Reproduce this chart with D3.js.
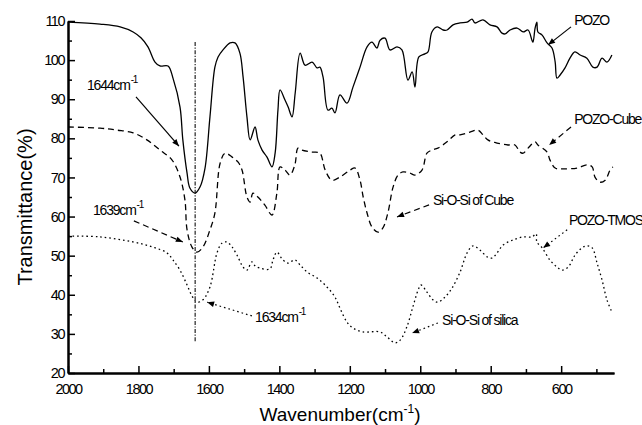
<!DOCTYPE html>
<html>
<head>
<meta charset="utf-8">
<script src="https://cdn.jsdelivr.net/npm/d3@7"></script>
<style>
  body { margin: 0; background: #fff; }
  text { font-family: "Liberation Sans", Arial, sans-serif; fill: #000; }
</style>
</head>
<body>
<div id="chart"></div>
<script>
// FTIR spectra, [wavenumber (cm-1), transmittance (%)]
const pozo = [
  [2000,109.7],[1909,109.2],[1852,108.5],[1815,107.2],[1793,105.7],[1773,103.4],[1753,99.5],
  [1739,98.5],[1716,98.5],[1702,95.4],[1682,88.0],[1674,79.6],[1662,71.1],[1654,67.3],
  [1639,66.0],[1625,67.6],[1611,72.4],[1597,85.5],[1583,98.2],[1574,100.8],[1560,102.6],
  [1540,104.4],[1526,104.4],[1512,101.8],[1503,95.7],[1492,85.5],[1483,79.6],[1469,82.9],
  [1461,79.6],[1449,77.0],[1435,75.2],[1421,72.7],[1412,76.2],[1404,87.2],[1398,92.4],
  [1384,89.8],[1375,88.0],[1364,85.5],[1355,91.6],[1341,101.8],[1327,98.7],[1307,99.5],
  [1293,98.0],[1285,98.2],[1276,95.7],[1262,87.2],[1251,87.7],[1242,86.5],[1228,91.1],
  [1208,89.0],[1191,93.1],[1171,98.2],[1151,103.4],[1137,104.6],[1123,103.1],[1114,105.1],
  [1100,105.6],[1086,102.6],[1066,103.4],[1052,102.6],[1035,94.9],[1023,97.0],[1015,93.1],
  [1004,100.8],[987,101.6],[978,102.1],[967,107.2],[952,108.5],[935,107.7],[924,107.7],
  [907,109.0],[887,109.5],[867,109.7],[853,110.5],[845,109.5],[822,110.3],[802,109.0],
  [782,108.5],[768,106.9],[759,106.7],[745,107.7],[725,108.2],[708,107.2],[694,107.7],
  [683,105.1],[680,104.6],[674,108.2],[669,109.7],[666,107.2],[654,106.4],[640,104.4],
  [626,103.1],[617,99.5],[612,95.4],[603,96.2],[589,98.0],[575,100.5],[561,102.1],
  [546,101.3],[527,100.5],[510,98.2],[498,98.2],[484,100.5],[470,99.5],[456,101.3]
];
const pozoCube = [
  [2000,82.9],[1909,82.6],[1861,82.1],[1815,81.4],[1776,79.6],[1739,77.0],[1705,74.5],
  [1682,70.1],[1668,64.2],[1662,56.6],[1648,52.2],[1634,50.9],[1617,52.2],[1597,56.6],
  [1583,60.9],[1568,73.7],[1554,76.2],[1534,75.2],[1517,73.9],[1506,71.9],[1492,65.0],
  [1483,63.7],[1475,66.0],[1461,65.0],[1441,62.9],[1421,60.4],[1407,66.0],[1398,72.7],
  [1384,71.9],[1370,70.6],[1356,73.2],[1347,77.5],[1336,77.0],[1307,76.5],[1285,76.2],
  [1270,71.9],[1251,69.3],[1228,70.1],[1199,71.9],[1185,72.4],[1171,69.3],[1162,65.0],
  [1151,60.9],[1137,57.3],[1120,56.0],[1106,57.1],[1092,60.9],[1077,67.6],[1063,70.6],
  [1049,71.4],[1029,71.1],[1015,70.6],[995,71.9],[981,76.2],[967,77.0],[950,77.5],
  [924,79.1],[901,80.9],[887,80.9],[859,81.6],[836,82.1],[822,80.9],[808,79.6],[782,78.8],
  [751,78.3],[731,78.3],[717,76.5],[708,76.2],[694,77.5],[674,79.1],[666,78.3],[640,76.5],
  [632,74.5],[617,72.4],[595,72.2],[555,72.4],[527,73.2],[512,72.7],[504,70.1],[490,68.8],
  [475,69.3],[461,71.9],[453,72.7]
];
const pozoTmos = [
  [2000,55.0],[1909,54.8],[1815,53.5],[1759,52.2],[1719,50.7],[1702,48.9],[1682,46.3],
  [1662,42.5],[1648,39.7],[1634,38.1],[1617,38.7],[1597,42.0],[1577,50.7],[1563,53.2],
  [1549,53.5],[1534,52.2],[1520,50.1],[1503,47.1],[1492,46.3],[1478,48.4],[1469,47.4],
  [1455,46.8],[1427,46.6],[1418,48.9],[1407,50.9],[1390,48.9],[1375,48.1],[1356,48.9],
  [1341,47.6],[1321,45.8],[1293,44.3],[1265,42.0],[1242,39.4],[1228,36.6],[1208,33.0],
  [1191,31.5],[1163,30.5],[1114,30.5],[1094,29.2],[1072,27.7],[1057,28.4],[1038,31.8],
  [1021,36.9],[1006,41.2],[998,42.5],[981,40.7],[964,38.7],[950,38.1],[930,39.4],[910,41.7],
  [887,45.8],[867,50.7],[850,52.5],[830,51.4],[810,49.7],[796,49.4],[782,50.7],[765,52.7],
  [737,54.0],[708,54.8],[683,54.8],[671,55.6],[669,53.5],[654,52.0],[632,48.9],[612,47.1],
  [598,46.3],[580,47.1],[561,50.1],[541,52.0],[527,52.5],[512,52.0],[498,48.1],[484,43.8],
  [470,38.7],[456,35.6]
];

const xMajor = [2000, 1800, 1600, 1400, 1200, 1000, 800, 600];
const xMinor = [1900, 1700, 1500, 1300, 1100, 900, 700, 500];
const yMajor = [20, 30, 40, 50, 60, 70, 80, 90, 100, 110];
const yMinor = [25, 35, 45, 55, 65, 75, 85, 95, 105];

// reference line at the water band
const refLine = { wn: 1639, from: 104.6, to: 28 };

// labels: text anchor and arrow tail/tip in data units
const notes = [
  { text: "1644cm", sup: "-1", at: [1946, 92.4], from: [1807, 90.6], to: [1685, 78.0], style: "solid" },
  { text: "1639cm", sup: "-1", at: [1929, 60.4], from: [1813, 58.9], to: [1674, 53.5], style: "dash" },
  { text: "1634cm", sup: "-1", at: [1469, 33.0], from: [1478, 34.6], to: [1605, 38.1], style: "dot" },
  { text: "Si-O-Si of Cube", at: [964, 63.0], from: [975, 63.0], to: [1066, 59.9], style: "dash" },
  { text: "Si-O-Si of silica", at: [938, 32.3], from: [950, 32.8], to: [1023, 30.2], style: "dot" },
  { text: "POZO", at: [563, 109.0], from: [572, 108.5], to: [637, 103.9], style: "solid" },
  { text: "POZO-Cube", at: [563, 83.7], from: [572, 82.9], to: [634, 78.3], style: "dash" },
  { text: "POZO-TMOS", at: [578, 57.8], from: [583, 56.6], to: [651, 52.0], style: "dot" }
];

const width = 642, height = 425;
const marginLeft = 68, marginRight = 28, marginTop = 21, marginBottom = 52;

const dashes = { solid: null, dash: "6,4", dot: "1.6,3" };

const svg = d3.select("#chart").append("svg")
  .attr("width", width)
  .attr("height", height);

const x = d3.scaleLinear().domain([2000, 450]).range([marginLeft, width - marginRight]);
const y = d3.scaleLinear().domain([20, 110]).range([height - marginBottom, marginTop]);

// arrow head
svg.append("defs").append("marker")
  .attr("id", "head")
  .attr("viewBox", "0 0 10 10")
  .attr("refX", 10).attr("refY", 5)
  .attr("markerUnits", "userSpaceOnUse")
  .attr("markerWidth", 10).attr("markerHeight", 7)
  .attr("orient", "auto")
  .append("path")
  .attr("d", "M0,1 L10,5 L0,9 Z")
  .attr("fill", "#000");

// axes
const fmt = d3.format("d");
const xAxisMinor = d3.axisBottom(x).tickValues(xMinor).tickSize(-4).tickSizeOuter(0).tickFormat("");
const xAxis = d3.axisBottom(x).tickValues(xMajor).tickSize(-7).tickSizeOuter(0).tickPadding(11).tickFormat(fmt);
const yAxisMinor = d3.axisLeft(y).tickValues(yMinor).tickSize(-4).tickSizeOuter(0).tickFormat("");
const yAxis = d3.axisLeft(y).tickValues(yMajor).tickSize(-7).tickSizeOuter(0).tickPadding(5).tickFormat(fmt);

const gx = svg.append("g").attr("transform", `translate(0,${height - marginBottom})`);
gx.append("g").call(xAxisMinor);
gx.append("g").call(xAxis);
const gy = svg.append("g").attr("transform", `translate(${marginLeft},0)`);
gy.append("g").call(yAxisMinor);
gy.append("g").call(yAxis);

svg.selectAll(".domain").attr("stroke", "#000").attr("stroke-width", 2);
svg.selectAll(".tick line").attr("stroke", "#000").attr("stroke-width", 1.5);
svg.selectAll(".tick text")
  .attr("font-family", "Liberation Sans, Arial, sans-serif")
  .attr("font-size", 14.5)
  .attr("letter-spacing", "-1.5px")
  .attr("fill", "#000");
gy.selectAll(".tick text").attr("dx", "1px");

// axis titles
svg.append("text")
  .attr("transform", `translate(32,207) rotate(-90)`)
  .attr("text-anchor", "middle")
  .attr("font-size", 20)
  .text("Transmittance(%)");

const xt = svg.append("text")
  .attr("x", 340).attr("y", 421)
  .attr("text-anchor", "middle")
  .attr("font-size", 19)
  .text("Wavenumber(cm");
xt.append("tspan").attr("font-size", 12).attr("dy", -8).text("-1");
xt.append("tspan").attr("dy", 8).text(")");

// reference line
svg.append("line")
  .attr("x1", x(refLine.wn)).attr("x2", x(refLine.wn))
  .attr("y1", y(refLine.from)).attr("y2", y(refLine.to))
  .attr("stroke", "#333")
  .attr("stroke-width", 1.3)
  .attr("stroke-dasharray", "4,1.5,1.2,1.5");

// spectra
const line = d3.line()
  .x(d => x(d[0]))
  .y(d => y(d[1]))
  .curve(d3.curveCatmullRom.alpha(0.5));

const series = [
  { data: pozo, style: "solid" },
  { data: pozoCube, style: "dash" },
  { data: pozoTmos, style: "dot" }
];

svg.append("g").selectAll("path")
  .data(series)
  .join("path")
  .attr("d", d => line(d.data))
  .attr("fill", "none")
  .attr("stroke", "#000")
  .attr("stroke-width", 1.3)
  .attr("stroke-dasharray", d => dashes[d.style]);

// annotations
const ann = svg.append("g");
notes.forEach(n => {
  ann.append("line")
    .attr("x1", x(n.from[0])).attr("y1", y(n.from[1]))
    .attr("x2", x(n.to[0])).attr("y2", y(n.to[1]))
    .attr("stroke", "#000")
    .attr("stroke-width", 1.2)
    .attr("stroke-dasharray", dashes[n.style])
    .attr("marker-end", "url(#head)");
  const t = ann.append("text")
    .attr("x", x(n.at[0])).attr("y", y(n.at[1]))
    .attr("font-size", 14)
    .attr("letter-spacing", "-1.2px")
    .text(n.text);
  if (n.sup) {
    t.append("tspan").attr("font-size", 10).attr("dy", -7).attr("dx", 1).text(n.sup);
  }
});
</script>
</body>
</html>
